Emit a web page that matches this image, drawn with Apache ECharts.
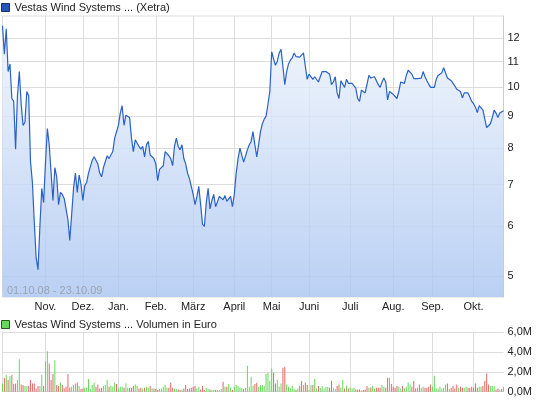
<!DOCTYPE html>
<html><head><meta charset="utf-8">
<script src="https://cdn.jsdelivr.net/npm/echarts@6/dist/echarts.min.js"></script>
<style>html,body{margin:0;padding:0;background:#fff}#c{width:545px;height:401px}</style>
</head><body><div id="c"></div>
<script>
// ---- data ----
const priceName = 'Vestas Wind Systems ... (Xetra)';
const volumeName = 'Vestas Wind Systems ... Volumen in Euro';
const dateRangeLabel = '01.10.08 - 23.10.09';
const firstDay = '2008-10-01';
const lastDay = '2009-10-23';
const closedDays = ['2008-12-24','2008-12-25','2008-12-26','2008-12-31','2009-01-01','2009-01-02','2009-04-10','2009-04-13','2009-05-01'];
const monthNames = ['Jan.','Feb.','März','April','Mai','Juni','Juli','Aug.','Sep.','Okt.','Nov.','Dez.'];
const priceTicks = [5,6,7,8,9,10,11,12];
const volumeTicks = [0,2,4,6];
// closing prices (EUR) per trading day
const prices = [
12.54,11.3,12.4,10.6,10.9,9.6,9.5,7.97,9.7,10.6,
9.4,8.7,8.8,9.85,9.7,7.6,7.05,6.1,5.35,5.12,
6.0,6.9,6.55,7.6,8.6,8.1,7.3,6.6,7.45,7.2,
6.5,6.8,6.75,6.65,6.4,6.15,5.7,5.7,6.9,7.3,
6.8,7.25,7.0,6.6,6.97,7.05,7.3,7.3,7.65,7.75,
7.65,7.55,7.3,7.2,7.45,7.5,7.78,7.7,7.75,7.9,
8.3,8.24,8.7,9.1,9.35,8.7,9.03,9.03,8.95,8.3,
7.9,8.25,8.3,8.05,7.97,8.05,7.75,8.1,8.2,7.8,
7.85,7.7,7.55,7.1,7.4,7.4,7.5,7.9,7.95,7.78,
7.7,7.5,8.05,8.3,8.05,7.95,8.1,7.7,7.55,7.3,
7.15,7.1,6.75,6.5,6.7,6.95,6.5,6.05,6.0,6.55,
6.9,6.4,6.6,6.75,6.45,6.45,6.7,6.7,6.62,6.72,
6.58,6.6,6.7,6.45,6.75,7.3,7.7,8.0,8.0,7.6,
7.6,7.95,8.1,8.2,8.5,8.1,7.75,8.1,8.5,8.75,
8.9,9.0,9.4,9.85,11.4,11.1,10.85,11.0,11.35,11.5,
10.8,10.1,10.6,10.9,11.05,11.15,11.35,11.2,11.2,11.18,
11.1,11.35,10.8,10.3,10.5,10.55,10.3,10.4,10.45,10.2,
10.4,10.6,10.6,10.6,10.65,10.5,10.1,10.2,10.4,9.8,
9.6,10.25,10.3,10.0,10.3,10.15,10.15,10.15,10.15,9.97,
9.6,9.5,9.9,9.85,9.8,9.75,10.45,10.35,10.35,10.4,
10.35,10.1,10.0,10.2,10.35,10.2,9.55,9.85,9.78,9.75,
9.72,9.6,9.85,10.2,10.15,10.15,10.45,10.65,10.7,10.5,
10.33,10.3,10.33,10.3,10.35,10.6,10.4,10.25,10.12,10.0,
10.0,10.0,10.3,10.45,10.5,10.55,10.75,10.8,10.35,10.4,
10.25,10.2,10.05,9.93,9.95,9.85,9.62,9.8,9.85,9.8,
9.65,9.5,9.42,9.3,9.12,9.35,9.4,9.2,8.9,8.63,
8.6,8.75,8.95,9.2,9.1,8.95,9.1,9.08,9.18
];
// daily volume in million EUR
const volumes = [
0.83,1.4,1.67,1.17,1.57,1.67,0.77,0.83,1.17,3.27,
0.73,0.67,0.57,0.57,0.57,1.17,0.83,0.83,0.33,0.57,
0.57,1.67,0.57,3.07,4.07,2.83,1.17,1.77,3.17,0.67,
0.57,0.93,0.67,0.33,0.5,1.77,0.43,0.5,0.67,0.83,
0.93,0.57,0.27,0.33,0.4,0.4,1.27,0.27,0.67,0.9,
0.5,0.73,0.33,0.4,0.57,0.67,1.17,0.5,0.6,0.5,
0.93,0.77,0.33,0.5,0.5,0.4,0.83,0.4,0.4,0.4,
0.57,0.73,0.57,0.33,0.4,0.33,0.4,0.5,0.4,0.57,
0.33,0.33,0.27,0.17,0.27,0.33,0.5,0.67,0.4,0.4,
0.93,0.4,0.3,0.27,0.23,0.17,0.23,0.33,0.67,0.27,
0.33,0.4,0.5,0.57,0.33,0.5,0.23,0.57,0.17,0.4,
0.27,0.23,0.17,0.17,0.17,0.17,0.17,0.27,1.0,0.5,
0.5,0.77,0.4,0.17,0.5,0.67,0.6,0.43,0.4,0.27,
0.4,2.6,0.5,1.5,0.6,0.77,0.9,0.5,0.67,0.67,
0.57,1.77,1.9,1.07,2.33,1.9,0.83,1.17,0.5,0.83,
2.4,2.5,0.73,0.5,0.33,0.57,0.27,0.17,0.33,0.57,
1.07,0.67,0.93,0.67,0.17,0.67,0.67,1.27,0.33,0.57,
0.4,0.57,0.33,0.5,0.5,0.4,1.1,0.4,0.27,0.57,
0.73,0.4,1.17,0.33,0.6,0.33,0.4,0.33,0.4,0.23,
0.23,0.23,0.13,0.17,0.23,0.57,0.4,0.43,0.57,0.33,
0.4,0.4,0.4,0.67,0.5,0.4,1.4,1.4,0.77,0.5,
0.4,0.57,0.5,0.33,0.57,0.33,0.5,0.93,0.73,0.5,
1.07,0.33,0.43,0.73,0.4,0.5,0.4,0.4,0.5,0.73,
0.5,1.6,0.33,0.33,0.5,0.33,0.4,0.73,0.83,0.27,
0.4,0.6,0.33,0.73,0.4,0.5,0.4,0.4,0.5,0.4,
0.4,0.5,0.4,0.83,0.4,0.5,0.5,0.57,1.07,1.83,
0.73,0.57,0.57,0.57,0.23,0.33,0.23,0.27,0.5
];

// ---- trading day categories ----
const dates = [];
(function () {
  const d = new Date(firstDay + 'T00:00:00Z');
  const end = new Date(lastDay + 'T00:00:00Z');
  while (d <= end) {
    const s = d.toISOString().slice(0, 10);
    const wd = d.getUTCDay();
    if (wd !== 0 && wd !== 6 && closedDays.indexOf(s) < 0) dates.push(s);
    d.setUTCDate(d.getUTCDate() + 1);
  }
})();
const monthOf = s => parseInt(s.slice(5, 7), 10);
const isMonthStart = dates.map((s, i) => i === 0 || monthOf(s) !== monthOf(dates[i - 1]));

const GREEN = '#66d95a', RED = '#e06868';
const volumeData = volumes.map((v, i) => ({
  value: v,
  itemStyle: { color: (i === 0 || prices[i] >= prices[i - 1]) ? GREEN : RED }
}));

const FONT = '"Liberation Sans", Arial, sans-serif';
const chart = echarts.init(document.getElementById('c'), null, { renderer: 'canvas' });
chart.setOption({
  animation: false,
  textStyle: { fontFamily: FONT },
  legend: [
    { left: 1, top: 2, itemWidth: 8, itemHeight: 8, itemGap: 4, padding: 0,
      textStyle: { fontSize: 11, color: '#222', fontFamily: FONT },
      data: [{ name: priceName, icon: 'rect', itemStyle: { color: '#2457b8', borderColor: '#1a2f66', borderWidth: 1 } }] },
    { left: 1, top: 319, itemWidth: 8, itemHeight: 8, itemGap: 4, padding: 0,
      textStyle: { fontSize: 11, color: '#222', fontFamily: FONT },
      data: [{ name: volumeName, icon: 'rect', itemStyle: { color: GREEN, borderColor: '#2a5a22', borderWidth: 1 } }] }
  ],
  grid: [
    { left: 2.5, right: 41.5, top: 16, height: 281, show: true, borderColor: '#dddddd', borderWidth: 1, backgroundColor: '#fff', containLabel: false },
    { left: 2.5, right: 41.5, top: 332, height: 59.7, show: false, containLabel: false }
  ],
  xAxis: [
    { type: 'category', gridIndex: 0, data: dates, boundaryGap: false,
      axisLine: { show: false }, axisTick: { show: false },
      axisLabel: { interval: (i) => isMonthStart[i] && i > 0, margin: 4, fontSize: 11, color: '#222', fontFamily: FONT,
        formatter: (v) => monthNames[monthOf(v) - 1] },
      splitLine: { show: true, interval: (i) => isMonthStart[i], lineStyle: { color: '#dddddd', width: 1 } } },
    { type: 'category', gridIndex: 1, data: dates, boundaryGap: false,
      axisLine: { show: false }, axisTick: { show: false }, axisLabel: { show: false },
      splitLine: { show: true, interval: (i) => isMonthStart[i], lineStyle: { color: '#dddddd', width: 1 } } }
  ],
  yAxis: [
    { type: 'log', gridIndex: 0, position: 'right', min: 4.63, max: 13.0, logBase: 10,
      axisLine: { show: true, lineStyle: { color: '#cccccc' } },
      axisTick: { show: false, customValues: priceTicks },
      axisLabel: { customValues: priceTicks, margin: 4, fontSize: 11, color: '#222', fontFamily: FONT,
        formatter: (v) => String(Math.round(v)) },
      splitLine: { show: true, lineStyle: { color: '#dddddd', width: 1 } } },
    { type: 'value', gridIndex: 1, position: 'right', min: 0, max: 6, interval: 2,
      axisLine: { show: false }, axisTick: { show: false },
      axisLabel: { margin: 4, fontSize: 11, color: '#222', fontFamily: FONT,
        formatter: (v) => v.toFixed(1).replace('.', ',') + 'M' },
      splitLine: { show: true, lineStyle: { color: '#dddddd', width: 1 } } }
  ],
  graphic: [
    { type: 'text', left: 7, top: 285, z: 100,
      style: { text: dateRangeLabel, fill: '#9aa3b2', fontSize: 11, fontFamily: FONT } }
  ],
  series: [
    { name: priceName, type: 'line', xAxisIndex: 0, yAxisIndex: 0, data: prices,
      showSymbol: false, symbol: 'none', smooth: false,
      lineStyle: { color: '#2a62c4', width: 1.2 },
      itemStyle: { color: '#2457b8' },
      areaStyle: { opacity: 0.82, origin: 'start',
        color: new echarts.graphic.LinearGradient(0, 16, 0, 297, [
          { offset: 0, color: '#f2f6fd' }, { offset: 1, color: '#abc6f1' }], true) } },
    { name: volumeName, type: 'bar', xAxisIndex: 1, yAxisIndex: 1, data: volumeData,
      barWidth: 1, itemStyle: { color: GREEN } }
  ]
});
</script></body></html>
